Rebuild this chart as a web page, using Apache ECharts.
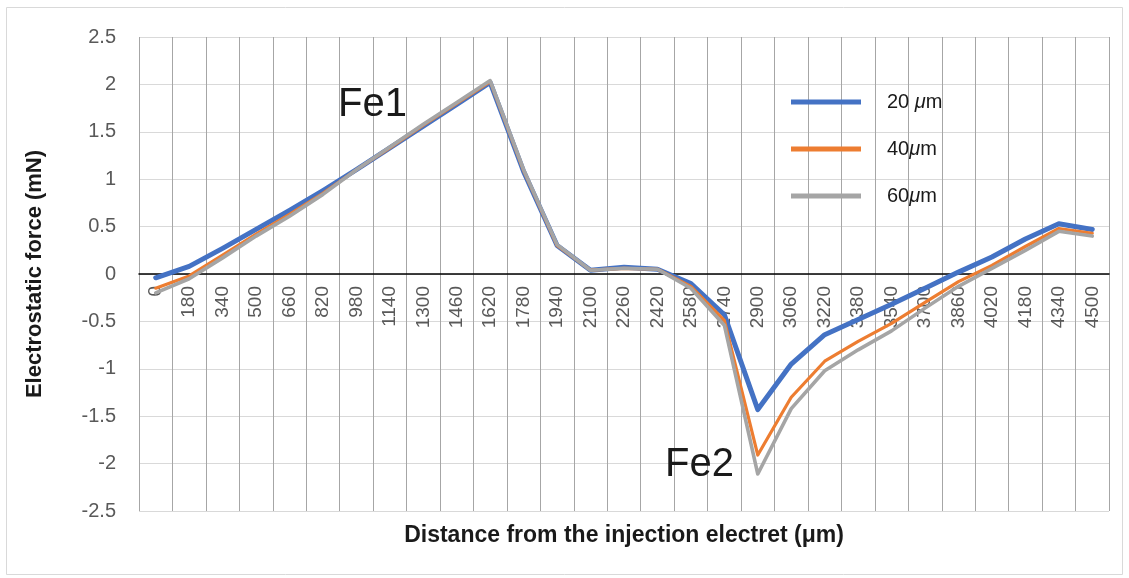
<!DOCTYPE html>
<html>
<head>
<meta charset="utf-8">
<script src="https://cdn.jsdelivr.net/npm/echarts@6/dist/echarts.min.js"></script>
<style>
  html, body { margin: 0; padding: 0; background: #fff; }
  #chart { width: 1129px; height: 578px; }
</style>
</head>
<body>
<div id="chart"></div>
<script>
// distances from the injection electret (um)
const distances = ['0', '180', '340', '500', '660', '820', '980', '1140', '1300', '1460',
  '1620', '1780', '1940', '2100', '2260', '2420', '2580', '2740', '2900', '3060',
  '3220', '3380', '3540', '3700', '3860', '4020', '4180', '4340', '4500'];

// electrostatic force (mN)
const force20 = [-0.04, 0.08, 0.27, 0.47, 0.67, 0.88, 1.1, 1.33, 1.56, 1.79,
  2.02, 1.08, 0.3, 0.04, 0.07, 0.05, -0.1, -0.43, -1.43, -0.95,
  -0.64, -0.48, -0.32, -0.15, 0.02, 0.18, 0.37, 0.53, 0.47];
const force40 = [-0.15, -0.02, 0.2, 0.42, 0.63, 0.85, 1.1, 1.33, 1.57, 1.8,
  2.03, 1.09, 0.3, 0.04, 0.06, 0.05, -0.13, -0.49, -1.91, -1.3,
  -0.92, -0.71, -0.52, -0.3, -0.08, 0.09, 0.29, 0.48, 0.43];
const force60 = [-0.2, -0.05, 0.17, 0.4, 0.61, 0.84, 1.1, 1.34, 1.58, 1.81,
  2.04, 1.1, 0.31, 0.04, 0.06, 0.05, -0.15, -0.54, -2.11, -1.42,
  -1.02, -0.8, -0.6, -0.36, -0.13, 0.06, 0.25, 0.45, 0.4];

const seriesNames = ['20 μm', '40μm', '60μm'];

const chart = echarts.init(document.getElementById('chart'));

function lineSeries(name, data, color, width) {
  return {
    name: name,
    type: 'line',
    data: data,
    symbol: 'none',
    itemStyle: { color: color },
    lineStyle: { color: color, width: width, join: 'round', cap: 'round' }
  };
}

// the x axis sits on y = 0, which is 237px above the bottom of the plot
const zeroOffset = -237;

chart.setOption({
  animation: false,
  textStyle: { fontFamily: 'Liberation Sans' },
  graphic: [
    {
      type: 'rect',
      shape: { x: 6.5, y: 7.5, width: 1116, height: 567 },
      style: { fill: 'none', stroke: '#d9d9d9', lineWidth: 1 },
      z: -1
    },
    {
      type: 'text', left: 338, top: 85, z: 10,
      style: { text: 'Fe1', font: '40px "Liberation Sans"', fill: '#1a1a1a' }
    },
    {
      type: 'text', left: 665, top: 445, z: 10,
      style: { text: 'Fe2', font: '40px "Liberation Sans"', fill: '#1a1a1a' }
    }
  ],
  grid: { left: 139, right: 20, top: 37, bottom: 67, containLabel: false, outerBoundsMode: 'none' },
  legend: {
    orient: 'vertical',
    left: 786,
    top: 87,
    icon: 'rect',
    itemWidth: 70,
    itemHeight: 5,
    itemGap: 27,
    data: seriesNames,
    formatter: function (name) {
      return name.replace('μ', '{i|μ}');
    },
    textStyle: {
      fontSize: 20,
      color: '#1a1a1a',
      padding: [0, 0, 0, 21],
      rich: { i: { fontSize: 20, fontStyle: 'italic', color: '#1a1a1a' } }
    }
  },
  xAxis: [
    {
      // grid lines at category boundaries
      type: 'category',
      data: distances,
      boundaryGap: true,
      axisLine: { show: false },
      axisTick: { show: false, interval: 0 },
      axisLabel: { show: false, interval: 0 },
      splitLine: {
        show: true, interval: 0, showMinLine: true, showMaxLine: true,
        lineStyle: { color: '#a6a6a6', width: 1 }
      }
    },
    {
      // visible axis on the zero line
      type: 'category',
      data: distances,
      boundaryGap: true,
      position: 'bottom',
      offset: zeroOffset,
      name: 'Distance from the injection electret (μm)',
      nameLocation: 'middle',
      nameGap: 250,
      nameTextStyle: { fontSize: 23, fontWeight: 'bold', color: '#1a1a1a' },
      axisLine: { onZero: false, lineStyle: { color: '#000', width: 1.5 } },
      axisTick: { show: false },
      axisLabel: { rotate: 90, fontSize: 19, color: '#595959', margin: 12, interval: 0 },
      splitLine: { show: false }
    }
  ],
  yAxis: {
    type: 'value',
    min: -2.5,
    max: 2.5,
    interval: 0.5,
    name: 'Electrostatic force (mN)',
    nameLocation: 'middle',
    nameGap: 93,
    nameTextStyle: { fontSize: 22, fontWeight: 'bold', color: '#1a1a1a' },
    axisLine: { show: false },
    axisTick: { show: false },
    axisLabel: { fontSize: 20, color: '#595959', margin: 23 },
    splitLine: { show: true, lineStyle: { color: '#d9d9d9', width: 1 } }
  },
  series: [
    lineSeries(seriesNames[0], force20, '#4472C4', 5),
    lineSeries(seriesNames[1], force40, '#ED7D31', 3.2),
    lineSeries(seriesNames[2], force60, '#A5A5A5', 3.6)
  ]
});
</script>
</body>
</html>
